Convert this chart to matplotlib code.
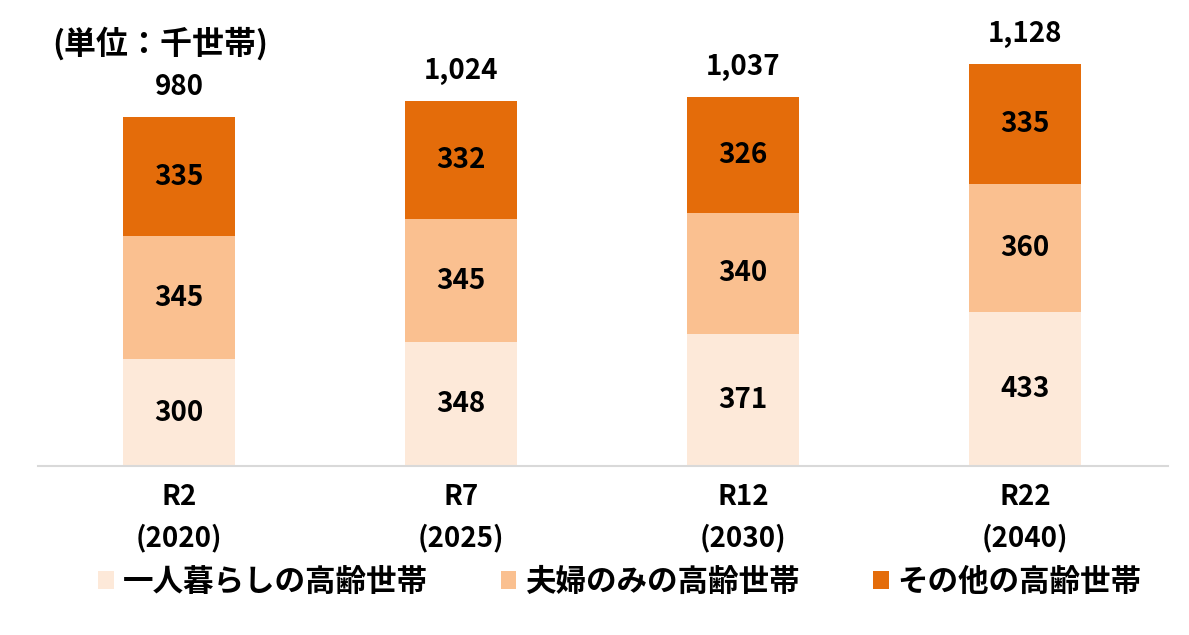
import numpy as np
import matplotlib
matplotlib.use('Agg')
import matplotlib.pyplot as plt

plt.rcParams['font.family'] = ['Noto Sans CJK JP', 'DejaVu Sans']

categories = ['R2\n(2020)', 'R7\n(2025)', 'R12\n(2030)', 'R22\n(2040)']
single = [300, 348, 371, 433]
couple = [345, 345, 340, 360]
other = [335, 332, 326, 335]
totals = ['980', '1,024', '1,037', '1,128']
series_names = ['一人暮らしの高齢世帯', '夫婦のみの高齢世帯', 'その他の高齢世帯']
colors = ['#FDE9D9', '#FAC090', '#E46C0A']

fig = plt.figure(figsize=(11.89, 6.35), dpi=100)
ax = fig.add_axes([38 / 1189, 1 - 466 / 635, 1130 / 1189, 446 / 635])

x = np.arange(len(categories))
w = 0.4
bottom = np.zeros(len(categories))
handles = []
for vals, c, name in zip([single, couple, other], colors, series_names):
    bars = ax.bar(x, vals, w, bottom=bottom, color=c, label=name)
    handles.append(bars)
    for xi, b, v in zip(x, bottom, vals):
        ax.text(xi, b + v / 2, str(v), ha='center', va='center',
                fontsize=20, fontweight='bold')
    bottom = bottom + np.array(vals)

for xi, t, tot in zip(x, bottom, totals):
    ax.text(xi, t + 45, tot, ha='center', va='bottom', fontsize=20, fontweight='bold')

ax.set_xlim(-0.5, 3.507)
ax.set_ylim(0, 1253)
ax.set_yticks([])
ax.set_xticks(x)
ax.set_xticklabels(categories, fontsize=20, fontweight='bold', linespacing=1.55)
ax.tick_params(axis='x', length=0, pad=12)
for s in ['top', 'right', 'left']:
    ax.spines[s].set_visible(False)
ax.spines['bottom'].set_color('#D9D9D9')
ax.spines['bottom'].set_linewidth(1.5)

fig.text(52 / 1189, 1 - 44 / 635, '(単位：千世帯)', fontsize=23, fontweight='bold',
         ha='left', va='center')

fig.legend(handles=handles, labels=series_names, loc='center',
           bbox_to_anchor=(620 / 1189, 1 - 582 / 635), ncol=3, frameon=False,
           prop={'size': 22, 'weight': 'bold'}, handlelength=0.5, handleheight=0.5,
           handletextpad=0.3, columnspacing=2.4)

fig.savefig('out.png', dpi=100)
